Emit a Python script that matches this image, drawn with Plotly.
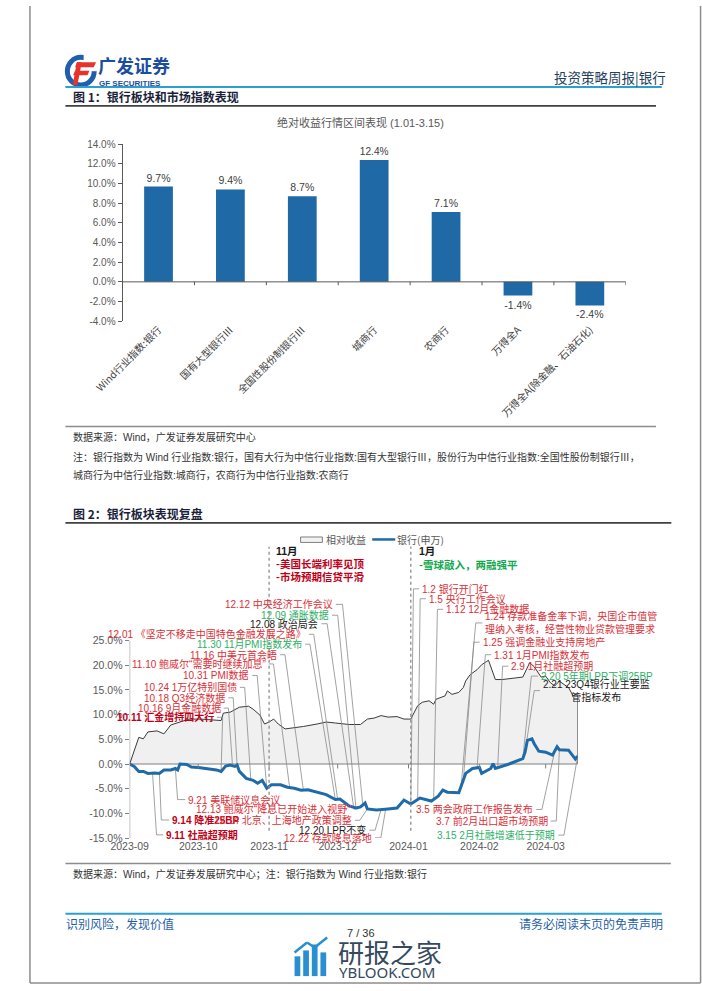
import numpy as np
import pandas as pd
import plotly.graph_objects as go

W, H = 702, 991
CJK = "Noto Sans CJK SC"
MIX = "Liberation Sans, Arial, Noto Sans CJK SC"

# ---------------- data: chart 1 ----------------
categories = ["Wind行业指数:银行", "国有大型银行Ⅲ", "全国性股份制银行Ⅲ", "城商行", "农商行",
              "万得全A", "万得全A(除金融、石油石化)"]
returns_pct = [9.7, 9.4, 8.7, 12.4, 7.1, -1.4, -2.4]
bar_yticks = [-4, -2, 0, 2, 4, 6, 8, 10, 12, 14]

# ---------------- data: chart 2 ----------------
rel_dates = ["2023-09-01", "2023-09-05", "2023-09-07", "2023-09-09", "2023-09-13", "2023-09-16",
             "2023-09-19", "2023-09-23", "2023-09-27", "2023-10-02", "2023-10-11", "2023-10-12",
             "2023-10-15", "2023-10-19", "2023-10-23", "2023-10-25", "2023-10-28", "2023-10-30",
             "2023-11-01", "2023-11-03", "2023-11-05", "2023-11-08", "2023-11-12", "2023-11-16",
             "2023-11-22", "2023-11-26", "2023-11-30", "2023-12-06", "2023-12-11", "2023-12-14",
             "2023-12-17", "2023-12-20", "2023-12-23", "2023-12-27", "2023-12-30", "2024-01-02",
             "2024-01-05", "2024-01-07", "2024-01-10", "2024-01-12", "2024-01-13", "2024-01-17",
             "2024-01-18", "2024-01-20", "2024-01-23", "2024-01-25", "2024-01-26", "2024-01-28",
             "2024-01-31", "2024-02-02", "2024-02-04", "2024-02-05", "2024-02-08", "2024-02-11",
             "2024-02-20", "2024-02-22", "2024-02-23", "2024-02-25", "2024-02-28", "2024-03-01",
             "2024-03-03", "2024-03-05", "2024-03-07", "2024-03-09", "2024-03-11", "2024-03-13",
             "2024-03-14", "2024-03-15"]
rel_values = [0, 5.4, 5.1, 6.5, 6.7, 6.1, 7.9, 8.5, 9.1, 9.1, 8.8, 10.3,
              10.5, 11.5, 11.7, 11.1, 9.9, 8.1, 8.5, 9.1, 8.1, 7.1, 7.3, 7.6,
              8.1, 8.5, 8.3, 8.0, 8.0, 9.1, 9.3, 9.8, 9.5, 9.6, 9.1, 9.1,
              11.8, 12.5, 12.8, 12.1, 13.1, 13.8, 14.8, 14.1, 14.5, 15.5, 16.8, 18.1,
              19.1, 20.1, 20.7, 21.0, 17.1, 17.1, 17.6, 19.5, 20.5, 19.7, 17.6, 17.8,
              16.5, 15.8, 16.8, 16.1, 15.5, 13.8, 14.1, 14.3]

bank_dates = ["2023-09-01", "2023-09-03", "2023-09-05", "2023-09-07", "2023-09-09", "2023-09-12",
              "2023-09-14", "2023-09-16", "2023-09-19", "2023-09-21", "2023-09-22", "2023-09-23",
              "2023-09-26", "2023-09-28", "2023-10-01", "2023-10-05", "2023-10-09", "2023-10-11",
              "2023-10-13", "2023-10-15", "2023-10-17", "2023-10-18", "2023-10-19", "2023-10-22",
              "2023-10-25", "2023-10-27", "2023-10-29", "2023-10-31", "2023-11-02", "2023-11-06",
              "2023-11-09", "2023-11-12", "2023-11-15", "2023-11-18", "2023-11-22", "2023-11-26",
              "2023-11-30", "2023-12-02", "2023-12-06", "2023-12-09", "2023-12-11", "2023-12-13",
              "2023-12-14", "2023-12-18", "2023-12-23", "2023-12-27", "2023-12-30", "2024-01-02",
              "2024-01-06", "2024-01-09", "2024-01-11", "2024-01-14", "2024-01-16", "2024-01-18",
              "2024-01-23", "2024-01-26", "2024-01-29", "2024-02-01", "2024-02-02", "2024-02-06",
              "2024-02-07", "2024-02-08", "2024-02-14", "2024-02-20", "2024-02-21", "2024-02-22",
              "2024-02-24", "2024-02-25", "2024-02-27", "2024-03-01", "2024-03-04", "2024-03-06",
              "2024-03-07", "2024-03-11", "2024-03-13", "2024-03-14", "2024-03-15"]
bank_values = [0, -0.5, -1.5, -1.5, -1.9, -1.8, -1.9, -1.2, -1.2, -0.9, -1.2, 0.0,
               -0.1, -0.6, -0.7, -0.9, -1.2, -1.5, -0.4, -0.2, -0.5, -0.2, -1.5, -2.9,
               -3.3, -3.9, -3.3, -4.9, -4.2, -4.2, -4.7, -4.9, -5.3, -5.2, -5.7, -6.2,
               -7.2, -7.1, -8.5, -8.9, -8.7, -7.9, -9.1, -9.3, -9.1, -8.9, -7.3, -8.1,
               -6.9, -7.2, -7.5, -6.5, -5.3, -5.7, -5.8, -1.9, -0.9, -0.7, -1.9, -0.9,
               0.1, -0.9, 0.0, 1.1, 2.4, 4.8, 5.1, 4.1, 2.6, 2.4, 1.8, 3.5,
               2.9, 2.8, 1.5, 1.0, 1.6]

month_ticks = ["2023-09-01", "2023-10-01", "2023-11-01", "2023-12-01", "2024-01-01", "2024-02-01", "2024-03-01"]
month_labels = ["2023-09", "2023-10", "2023-11", "2023-12", "2024-01", "2024-02", "2024-03"]
line_yticks = [-15, -10, -5, 0, 5, 10, 15, 20, 25]

event_dates = ["2023-09-11", "2023-09-14", "2023-09-21", "2023-10-11", "2023-10-16", "2023-10-18",
               "2023-10-24", "2023-10-31", "2023-11-10", "2023-11-16", "2023-11-30", "2023-12-01",
               "2023-12-08", "2023-12-09", "2023-12-12", "2023-12-13", "2023-12-14", "2023-12-20",
               "2023-12-22", "2024-01-02", "2024-01-05", "2024-01-12", "2024-01-24", "2024-01-25",
               "2024-01-31", "2024-02-09", "2024-02-20", "2024-02-21", "2024-03-05", "2024-03-07",
               "2024-03-15"]
event_texts = ["9.11 社融超预期", "9.14 降准25BP", "9.21 美联储议息会议", "10.11 汇金增持四大行",
               "10.16 9月金融数据", "10.18 Q3经济数据", "10.24 1万亿特别国债", "10.31 PMI数据",
               "11.10 鲍威尔“需要时继续加息”", "11.16 中美元首会晤", "11.30 11月PMI指数发布",
               "12.01 《坚定不移走中国特色金融发展之路》", "12.08 政治局会", "12.09 通胀数据",
               "12.12 中央经济工作会议", "12.13 鲍威尔“降息已开始进入视野”", "12.14 北京、上海地产政策调整",
               "12.20 LPR不变", "12.22 存款降息落地", "1.2 银行开门红", "1.5 央行工作会议",
               "1.12 12月金融数据", "1.24 存款准备金率下调，央国企市值管<br>理纳入考核，经营性物业贷款管理要求",
               "1.25 强调金融业支持房地产", "1.31 1月PMI指数发布", "2.9 1月社融超预期",
               "2.20 5年期LPR下调25BP", "2.21 23Q4银行业主要监<br>管指标发布", "3.5 两会政府工作报告发布",
               "3.7 前2月出口超市场预期", "3.15 2月社融增速低于预期"]
event_kinds = ["dred", "dred", "red", "dred", "red", "red", "red", "red", "red", "red", "green",
               "red", "black", "green", "red", "red", "red", "black", "red", "red", "red", "red",
               "red", "red", "red", "red", "green", "black", "red", "red", "green"]

# ---------------- layout-only helpers ----------------
COLORS = {"red": "#DA2F38", "dred": "#C00018", "green": "#2DB067", "black": "#1A1A1A"}
# label placement: (leader side, tick x0 px, tick x1 px, y px)
event_label_layout = [
    ("l", 133, 140, 839), ("l", 138, 146, 824), ("l", 155, 163, 803.3), ("r", 196, 202, 720),
    ("r", 203, 208, 710.7), ("r", 208, 213, 700.3), ("r", 220, 225, 689.7), ("r", 233, 238, 677.7),
    ("r", 250, 255, 666), ("r", 262, 267, 656.7), ("r", 288, 293, 646), ("r", 292, 297, 636),
    ("r", 305, 311, 625.3), ("r", 316, 322, 616.7), ("r", 320, 327, 605.7), ("r", 338, 343, 812.7),
    ("r", 340, 345, 824.3), ("r", 355, 361, 834.3), ("r", 361, 367, 842), ("l", 401, 407, 590),
    ("l", 408, 414, 600), ("l", 426, 432, 610.7), ("l", 466, 473, 624.5), ("l", 464, 470, 644),
    ("l", 476, 482, 656.7), ("l", 494, 500, 668.3), ("l", 524, 531, 678.3), ("l", 527, 533, 693),
    ("r", 529, 535, 813.3), ("r", 544, 550, 825), ("r", 552, 558, 839.3)]
EVENT_FONT = 10


def px(x):
    return x / W


def py(y):
    return 1 - y / H


C2_X0, C2_X1 = 105.0, 572.3
C2_START, C2_END = pd.Timestamp("2023-09-01"), pd.Timestamp("2024-03-15")
C2_DAYS = (C2_END - C2_START).days
C2_ZERO, C2_K = 767.3, 5.0
C2_YMIN, C2_YMAX = -15, 46


def c2_date(xp):
    d = (xp - C2_X0) / (C2_X1 - C2_X0) * C2_DAYS
    return (C2_START + pd.Timedelta(days=d)).strftime("%Y-%m-%d %H:%M:%S")


def c2_val(yp):
    return (C2_ZERO - yp) / C2_K


def c2_ypx(v):
    return C2_ZERO - v * C2_K


annotations = []
shapes = []


def text(x, y, s, size=10, color="#333333", xanchor="left", yanchor="middle", family=MIX, align="left"):
    annotations.append(dict(x=px(x), y=py(y), xref="paper", yref="paper", text=s, showarrow=False,
                            xanchor=xanchor, yanchor=yanchor, align=align, borderpad=0,
                            font=dict(size=size, color=color, family=family)))


def pline(x0, y0, x1, y1, color, width=1, dash="solid"):
    shapes.append(dict(type="line", xref="paper", yref="paper", x0=px(x0), y0=py(y0), x1=px(x1),
                       y1=py(y1), line=dict(color=color, width=width, dash=dash)))


def ppath(pts, color):
    d = "M " + " L ".join(f"{px(a):.5f},{py(b):.5f}" for a, b in pts) + " Z"
    shapes.append(dict(type="path", xref="paper", yref="paper", path=d, fillcolor=color,
                       line=dict(width=0)))


fig = go.Figure()

# ---------------- chart 1 ----------------
fig.add_trace(go.Bar(x=categories, y=returns_pct, width=0.4, marker=dict(color="#1F69A6", line=dict(width=0)),
                     text=[f"{v:.1f}%" for v in returns_pct], textposition="outside", cliponaxis=False,
                     textfont=dict(size=10.5, color="#404040", family=MIX), xaxis="x", yaxis="y",
                     showlegend=False, hoverinfo="skip"))
shapes.append(dict(type="line", xref="x", yref="y", x0=-0.5, x1=len(categories) - 0.5, y0=0, y1=0,
                   line=dict(color="#595959", width=1)))
for k in range(len(categories)):
    shapes.append(dict(type="line", xref="x", yref="y", x0=k + 0.5, x1=k + 0.5, y0=0, y1=-0.35,
                       line=dict(color="#595959", width=1)))

# ---------------- chart 2 ----------------
fig.add_trace(go.Scatter(x=rel_dates, y=rel_values, mode="lines", fill="tozeroy", fillcolor="#F0F0F0",
                         line=dict(color="#3A3A3A", width=1), xaxis="x2", yaxis="y2", showlegend=False,
                         hoverinfo="skip"))
fig.add_trace(go.Scatter(x=[rel_dates[-1], rel_dates[-1]], y=[0, rel_values[-1]], mode="lines",
                         line=dict(color="#3A3A3A", width=1), xaxis="x2", yaxis="y2", showlegend=False,
                         hoverinfo="skip"))
fig.add_trace(go.Scatter(x=[rel_dates[0], rel_dates[-1]], y=[0, 0], mode="lines",
                         line=dict(color="#7F7F7F", width=1.2), xaxis="x2", yaxis="y2", showlegend=False,
                         hoverinfo="skip"))

bank_days = np.array([(pd.Timestamp(d) - C2_START).days for d in bank_dates], float)
lx, ly = [], []
for d, (side, t0, t1, yp) in zip(event_dates, event_label_layout):
    ed = (pd.Timestamp(d) - C2_START).days
    ev = float(np.interp(ed, bank_days, bank_values))
    xs = [t0, t1] if side == "r" else [t1, t0]
    lx += [c2_date(xs[0]), c2_date(xs[1]), d, None]
    ly += [c2_val(yp), c2_val(yp), ev, None]
fig.add_trace(go.Scatter(x=lx, y=ly, mode="lines", line=dict(color="#8A8A8A", width=0.8),
                         xaxis="x2", yaxis="y2", showlegend=False, hoverinfo="skip"))

fig.add_trace(go.Scatter(x=bank_dates, y=bank_values, mode="lines", line=dict(color="#1F6AA8", width=3),
                         xaxis="x2", yaxis="y2", showlegend=False, hoverinfo="skip"))

for (side, t0, t1, yp), s, kind in zip(event_label_layout, event_texts, event_kinds):
    lab = f"<b>{s}</b>" if kind == "dred" else s
    al = "center" if s.startswith("2.21") else "left"
    if side == "r":
        text(t0 - 2, yp, lab, size=EVENT_FONT, color=COLORS[kind], xanchor="right", align="right")
    else:
        text(t1 + 2, yp, lab, size=EVENT_FONT, color=COLORS[kind], xanchor="left", align=al)

# y axis line and month ticks on the zero line
shapes.append(dict(type="line", xref="x2", yref="y2", x0=rel_dates[0], x1=rel_dates[0], y0=-15, y1=25,
                   line=dict(color="#7F7F7F", width=1)))
for m in month_ticks[1:]:
    shapes.append(dict(type="line", xref="x2", yref="y2", x0=m, x1=m, y0=0, y1=-0.9,
                       line=dict(color="#7F7F7F", width=1)))
# dotted period separators
for m in ["2023-11-01", "2024-01-02"]:
    shapes.append(dict(type="line", xref="x2", yref="y2", x0=m, x1=m, y0=-13.5, y1=44,
                       line=dict(color="#8C8C8C", width=1.3, dash="dot")))

text(257, 552, "<b>11月</b>", size=10.5, color="#1A1A1A")
text(257, 564.7, "<b>-美国长端利率见顶</b>", size=10.5, color="#C00018", family=CJK)
text(257, 577.3, "<b>-市场预期信贷平滑</b>", size=10.5, color="#C00018", family=CJK)
text(405.7, 552, "<b>1月</b>", size=10.5, color="#1A1A1A")
text(405.7, 565, "<b>-雪球敲入，两融强平</b>", size=10.5, color="#10A84E", family=CJK)

# legend
shapes.append(dict(type="rect", xref="paper", yref="paper", x0=px(283.3), x1=px(306), y0=py(543),
                   y1=py(537.5), line=dict(color="#7F7F7F", width=1), fillcolor="#F2F2F2"))
text(309, 540, "相对收益", size=10, color="#595959", family=CJK)
pline(358, 540, 382, 540, "#1F6AA8", 2.5)
text(383, 540, "银行(申万)", size=10, color="#595959", family=CJK)

# ---------------- page furniture ----------------
# logo
shapes.append(dict(type="circle", xref="paper", yref="paper", x0=px(40), x1=px(68), y0=py(80), y1=py(52),
                   line=dict(color="#1F5FAD", width=5)))
shapes.append(dict(type="rect", xref="paper", yref="paper", x0=px(57), x1=px(72), y0=py(66), y1=py(49),
                   fillcolor="white", line=dict(width=0)))
ppath([(50, 57), (70, 57), (67.5, 62), (48, 62)], "#E8332C")
ppath([(48, 65.5), (63, 65.5), (61, 70), (46, 70)], "#E8332C")
ppath([(50, 57), (55, 57), (50.5, 80), (45.5, 80)], "#E8332C")
text(71, 60, "<b>广发证券</b>", size=18, color="#1C4D9E", family=CJK)
text(72, 78.5, "<b>GF SECURITIES</b>", size=8, color="#1C4D9E", family=MIX)
text(665, 72, "投资策略周报|银行", size=13.5, color="#243F60", family=CJK, xanchor="right")
pline(38, 82, 660, 82, "#2A9FD6", 2)

text(45, 92, "<b>图 1：银行板块和市场指数表现</b>", size=12, color="#1B1F3B", family=CJK)
pline(38, 101, 654, 101, "#404040", 1.8)
text(346, 118, "绝对收益行情区间表现 (1.01-3.15)", size=11, color="#595959", xanchor="center")

pline(38, 425.7, 654, 425.7, "#8C8C8C", 1.5)
text(45, 436.7, "数据来源：Wind，广发证券发展研究中心", size=10, color="#333333")
text(45, 456.7, "注：银行指数为 Wind 行业指数:银行，国有大行为中信行业指数:国有大型银行Ⅲ，股份行为中信行业指数:全国性股份制银行Ⅲ，",
     size=10, color="#333333")
text(45, 474.3, "城商行为中信行业指数:城商行，农商行为中信行业指数:农商行", size=10, color="#333333")

text(45, 514, "<b>图 2：银行板块表现复盘</b>", size=12, color="#1B1F3B", family=CJK)
pline(38, 523.3, 670, 523.3, "#404040", 1.8)

pline(38, 868, 669.5, 868, "#8C8C8C", 1.5)
text(45, 879, "数据来源：Wind，广发证券发展研究中心；注：银行指数为 Wind 行业指数:银行", size=10, color="#333333")

pline(38, 919, 660, 919, "#2A9FD6", 2)
text(38, 928.5, "识别风险，发现价值", size=12, color="#1F5FA8", family=CJK)
text(662, 928.5, "请务必阅读末页的免责声明", size=12, color="#1F5FA8", family=CJK, xanchor="right")
text(346, 938.5, "7 / 36", size=11, color="#333333", xanchor="center")

# watermark
for x0, x1, y0 in [(277, 283, 962), (286, 292, 956), (295, 301, 950), (304, 310, 958)]:
    shapes.append(dict(type="rect", xref="paper", yref="paper", x0=px(x0), x1=px(x1), y0=py(982), y1=py(y0),
                       fillcolor="#2A8FD0", line=dict(width=0)))
pline(277, 958, 290, 948, "#2A8FD0", 2.5)
pline(290, 948, 298, 953, "#2A8FD0", 2.5)
pline(298, 953, 311, 943, "#2A8FD0", 2.5)
text(321, 957, "研报之家", size=26, color="#34495E", family=CJK)
text(322, 977.5, "YBLOOK.COM", size=15, color="#34495E", family="Noto Sans")

# page border
pline(1, 0, 1, 989, "#8C8C8C", 1.5)
pline(700.5, 0, 700.5, 989, "#8C8C8C", 1.5)
pline(1, 989, 700.5, 989, "#8C8C8C", 1.5)

fig.update_layout(
    width=W, height=H, margin=dict(l=0, r=0, t=0, b=0), paper_bgcolor="white", plot_bgcolor="rgba(0,0,0,0)",
    showlegend=False, bargap=0.6,
    xaxis=dict(domain=[px(97.6), px(622.5)], anchor="y", range=[-0.5, len(categories) - 0.5],
               tickangle=-45, showline=False, ticks="", showgrid=False, zeroline=False,
               tickfont=dict(size=10, color="#404040", family=CJK), fixedrange=True),
    yaxis=dict(domain=[py(319), py(140)], anchor="x", range=[-4, 14], tickvals=bar_yticks,
               ticktext=[f"{v:.1f}%" for v in bar_yticks], ticks="outside", ticklen=4, showline=True,
               linecolor="#595959", tickcolor="#595959", showgrid=False, zeroline=False,
               tickfont=dict(size=10, color="#595959", family=MIX), fixedrange=True),
    xaxis2=dict(domain=[px(C2_X0), px(C2_X1)], anchor="y2", type="date",
                range=[C2_START.strftime("%Y-%m-%d"), C2_END.strftime("%Y-%m-%d")],
                tickvals=month_ticks, ticktext=month_labels, showline=False, ticks="", showgrid=False,
                zeroline=False, tickfont=dict(size=10.5, color="#595959", family=MIX), fixedrange=True),
    yaxis2=dict(domain=[py(c2_ypx(C2_YMIN)), py(c2_ypx(C2_YMAX))], anchor="x2", range=[C2_YMIN, C2_YMAX],
                tickvals=line_yticks, ticktext=[f"{v:.1f}%" for v in line_yticks], ticks="outside",
                ticklen=4, tickcolor="#7F7F7F", showline=False, showgrid=False, zeroline=False,
                tickfont=dict(size=10.5, color="#595959", family=MIX), fixedrange=True),
    annotations=annotations, shapes=shapes,
)

fig.write_html("out.html")
